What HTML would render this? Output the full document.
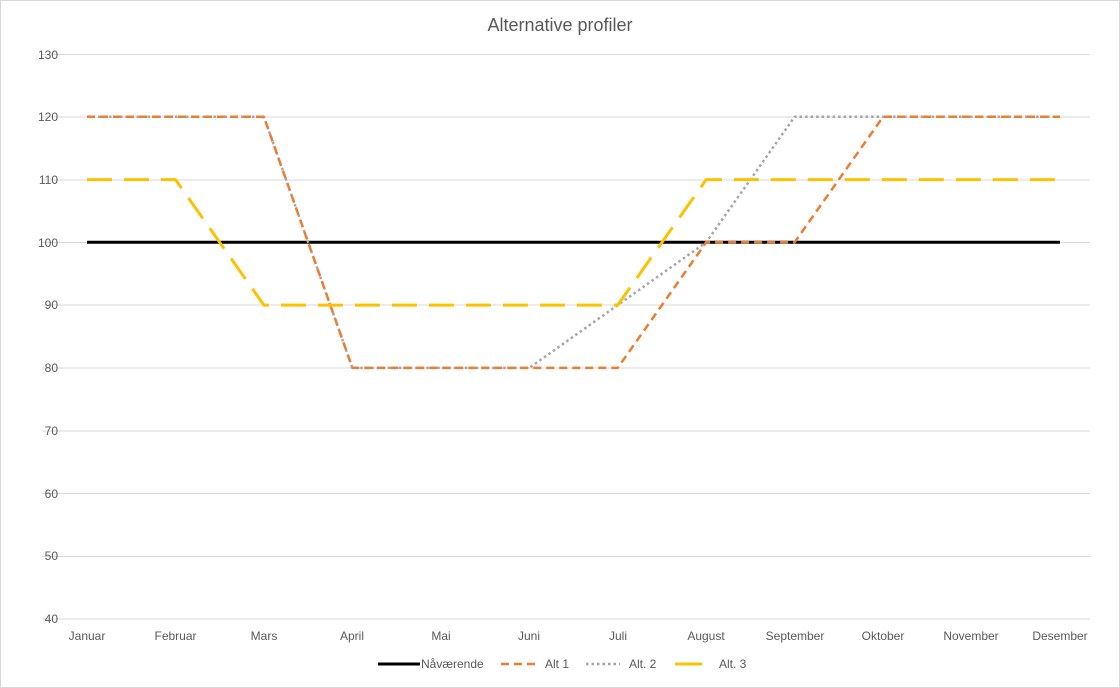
<!DOCTYPE html>
<html><head><meta charset="utf-8"><style>
body{margin:0;background:#fff}
svg{display:block;font-family:"Liberation Sans",sans-serif}
</style></head><body>
<svg width="1120" height="688" viewBox="0 0 1120 688">
<rect x="0.5" y="0.5" width="1119" height="687" fill="#fff" stroke="#d9d9d9"/>
<text x="560" y="31" text-anchor="middle" font-size="18" fill="#595959">Alternative profiler</text>
<g stroke="#d9d9d9" stroke-width="1">
<line x1="42" x2="1090" y1="54.5" y2="54.5"/><line x1="42" x2="1090" y1="117" y2="117"/>
<line x1="42" x2="1090" y1="180" y2="180"/><line x1="42" x2="1090" y1="242.5" y2="242.5"/>
<line x1="42" x2="1090" y1="305" y2="305"/><line x1="42" x2="1090" y1="368" y2="368"/>
<line x1="42" x2="1090" y1="431" y2="431"/><line x1="42" x2="1090" y1="493.5" y2="493.5"/>
<line x1="42" x2="1090" y1="556.5" y2="556.5"/><line x1="42" x2="1090" y1="619" y2="619"/>
</g>
<g font-size="12" fill="#595959" text-anchor="end">
<text x="58" y="59">130</text><text x="58" y="121">120</text><text x="58" y="184">110</text>
<text x="58" y="247">100</text><text x="58" y="309">90</text><text x="58" y="372">80</text>
<text x="58" y="435">70</text><text x="58" y="498">60</text><text x="58" y="560">50</text><text x="58" y="623">40</text>
</g>
<g font-size="12" fill="#595959" text-anchor="middle">
<text x="87" y="640">Januar</text><text x="175.5" y="640">Februar</text><text x="264" y="640">Mars</text>
<text x="352" y="640">April</text><text x="441" y="640">Mai</text><text x="529" y="640">Juni</text>
<text x="618" y="640">Juli</text><text x="706" y="640">August</text><text x="795" y="640">September</text>
<text x="883" y="640">Oktober</text><text x="971" y="640">November</text><text x="1060" y="640">Desember</text>
</g>
<g fill="none" stroke-linejoin="round">
<polyline stroke="#000" stroke-width="3" points="87,242.3 1060,242.3"/>
<polyline stroke="#a5a5a5" stroke-width="2.5" stroke-dasharray="2.5 3" points="87,116.8 175.5,116.8 263.9,116.8 352.4,367.9 440.8,367.9 529.3,367.9 617.7,305.1 706.2,242.3 794.6,116.8 883.1,116.8 971.5,116.8 1060,116.8"/>
<polyline stroke="#ed7d31" stroke-width="2.5" stroke-dasharray="8 5" points="87,116.8 175.5,116.8 263.9,116.8 352.4,367.9 440.8,367.9 529.3,367.9 617.7,367.9 706.2,242.3 794.6,242.3 883.1,116.8 971.5,116.8 1060,116.8"/>
<polyline stroke="#ffc000" stroke-width="3" stroke-dasharray="25 12" points="87,179.6 175.5,179.6 263.9,305.1 352.4,305.1 440.8,305.1 529.3,305.1 617.7,305.1 706.2,179.6 794.6,179.6 883.1,179.6 971.5,179.6 1060,179.6"/>
</g>
<g font-size="12" fill="#595959">
<line x1="378" x2="420" y1="664" y2="664" stroke="#000" stroke-width="3"/>
<text x="421" y="668">Nåværende</text>
<line x1="501" x2="537" y1="664" y2="664" stroke="#ed7d31" stroke-width="2.5" stroke-dasharray="8 5"/>
<text x="545" y="668">Alt 1</text>
<line x1="586" x2="620" y1="664" y2="664" stroke="#a5a5a5" stroke-width="2.5" stroke-dasharray="2.5 3"/>
<text x="629" y="668">Alt. 2</text>
<line x1="675" x2="702" y1="664" y2="664" stroke="#ffc000" stroke-width="3"/>
<text x="719" y="668">Alt. 3</text>
</g>
</svg>
</body></html>
